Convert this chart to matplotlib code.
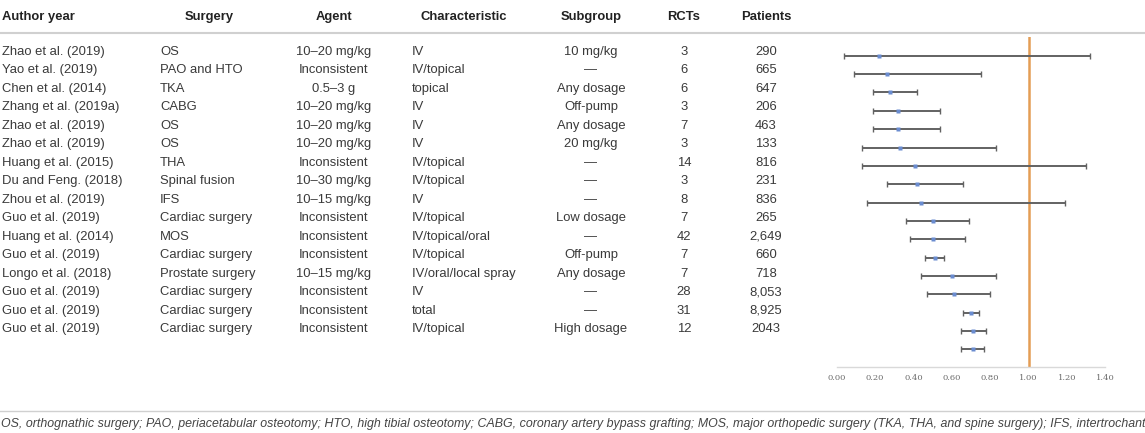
import matplotlib.pyplot as plt
import numpy as np

plt.rcParams['font.family'] = ['Liberation Sans', 'DejaVu Sans']

# table data
authors = ['Zhao et al. (2019)', 'Yao et al. (2019)', 'Chen et al. (2014)', 'Zhang et al. (2019a)',
           'Zhao et al. (2019)', 'Zhao et al. (2019)', 'Huang et al. (2015)', 'Du and Feng. (2018)',
           'Zhou et al. (2019)', 'Guo et al. (2019)', 'Huang et al. (2014)', 'Guo et al. (2019)',
           'Longo et al. (2018)', 'Guo et al. (2019)', 'Guo et al. (2019)', 'Guo et al. (2019)']
surgery = ['OS', 'PAO and HTO', 'TKA', 'CABG', 'OS', 'OS', 'THA', 'Spinal fusion', 'IFS',
           'Cardiac surgery', 'MOS', 'Cardiac surgery', 'Prostate surgery', 'Cardiac surgery',
           'Cardiac surgery', 'Cardiac surgery']
agent = ['10–20 mg/kg', 'Inconsistent', '0.5–3 g', '10–20 mg/kg', '10–20 mg/kg', '10–20 mg/kg',
         'Inconsistent', '10–30 mg/kg', '10–15 mg/kg', 'Inconsistent', 'Inconsistent',
         'Inconsistent', '10–15 mg/kg', 'Inconsistent', 'Inconsistent', 'Inconsistent']
characteristic = ['IV', 'IV/topical', 'topical', 'IV', 'IV', 'IV', 'IV/topical', 'IV/topical', 'IV',
                  'IV/topical', 'IV/topical/oral', 'IV/topical', 'IV/oral/local spray', 'IV',
                  'total', 'IV/topical']
subgroup = ['10 mg/kg', '—', 'Any dosage', 'Off-pump', 'Any dosage', '20 mg/kg', '—', '—', '—',
            'Low dosage', '—', 'Off-pump', 'Any dosage', '—', '—', 'High dosage']
rcts = ['3', '6', '6', '3', '7', '3', '14', '3', '8', '7', '42', '7', '7', '28', '31', '12']
patients = ['290', '665', '647', '206', '463', '133', '816', '231', '836', '265', '2,649', '660',
            '718', '8,053', '8,925', '2043']

# forest plot data (17 entries as drawn)
est = [0.22, 0.26, 0.28, 0.32, 0.32, 0.33, 0.41, 0.42, 0.44, 0.50, 0.50, 0.51, 0.60, 0.61, 0.70, 0.71, 0.71]
lower = [0.04, 0.09, 0.19, 0.19, 0.19, 0.13, 0.13, 0.26, 0.16, 0.36, 0.38, 0.46, 0.44, 0.47, 0.66, 0.65, 0.65]
upper = [1.32, 0.75, 0.42, 0.54, 0.54, 0.83, 1.30, 0.66, 1.19, 0.69, 0.67, 0.56, 0.83, 0.80, 0.74, 0.78, 0.77]
xticks = [0.0, 0.2, 0.4, 0.6, 0.8, 1.0, 1.2, 1.4]

footnote = ('OS, orthognathic surgery; PAO, periacetabular osteotomy; HTO, high tibial osteotomy; '
            'CABG, coronary artery bypass grafting; MOS, major orthopedic surgery (TKA, THA, and spine surgery); '
            'IFS, intertrochanteric fracture surgery.')

W, H = 1145, 433
fig = plt.figure(figsize=(W / 100, H / 100), dpi=100)


def fx(px):
    return px / W


def fy(py):
    return 1 - py / H


txt = '#3a3a3a'
fs = 9.4

# header
headers = [('Author year', 2, 'left'), ('Surgery', 209, 'center'), ('Agent', 334, 'center'),
           ('Characteristic', 464, 'center'), ('Subgroup', 591, 'center'),
           ('RCTs', 684, 'center'), ('Patients', 766, 'center')]
for label, x, ha in headers:
    fig.text(fx(x), fy(17), label, ha=ha, va='center', fontsize=fs, fontweight='bold', color='#222222')

fig.add_artist(plt.Line2D([0, 1], [fy(33), fy(33)], color='#d0d0d0', lw=1.5))
fig.add_artist(plt.Line2D([0, 1], [fy(411), fy(411)], color='#d0d0d0', lw=1.0))

# rows
row_y0, row_dy = 51.7, 18.5
cols = [(authors, 2, 'left'), (surgery, 160, 'left'), (agent, 334, 'center'),
        (characteristic, 412, 'left'), (subgroup, 591, 'center'), (rcts, 684, 'center'),
        (patients, 766, 'center')]
for values, x, ha in cols:
    for i, v in enumerate(values):
        fig.text(fx(x), fy(row_y0 + i * row_dy), v, ha=ha, va='center', fontsize=fs, color=txt)

# footnote runs past the right edge, as in the source
fig.text(fx(1), fy(424), footnote, ha='left', va='center', fontsize=8.9, style='italic', color='#444444')

# forest plot
ax_left, ax_right = 836.7, 1105.3
ax_top, ax_bot = 36.7, 367.3
ax = fig.add_axes([fx(ax_left), fy(ax_bot), fx(ax_right - ax_left), (ax_bot - ax_top) / H])
n = len(est)
ypos = np.arange(n)
est = np.array(est)
err = [est - np.array(lower), np.array(upper) - est]
ax.errorbar(est, ypos, xerr=err, fmt='none', ecolor='#626262',
            elinewidth=1.4, capsize=2, capthick=1, zorder=3)
ax.plot(est, ypos, 's', color='#6a8cd0', ms=3.2, mec='none', zorder=4)
ax.axvline(1.0, color='#e49d55', lw=1.8, zorder=2)
ax.set_xlim(0, 1.4)
ax.set_ylim(16.98, -1.04)
ax.set_xticks(xticks)
ax.set_xticklabels([f'{t:.2f}' for t in xticks], fontsize=6, color='#6b6b6b', family='DejaVu Serif')
ax.tick_params(axis='x', length=0, pad=5)
ax.set_yticks([])
for s in ['top', 'left', 'right']:
    ax.spines[s].set_visible(False)
ax.spines['bottom'].set_color('#d9d9d9')
ax.spines['bottom'].set_linewidth(1)
ax.patch.set_alpha(0)

fig.savefig('out.png', dpi=100)
